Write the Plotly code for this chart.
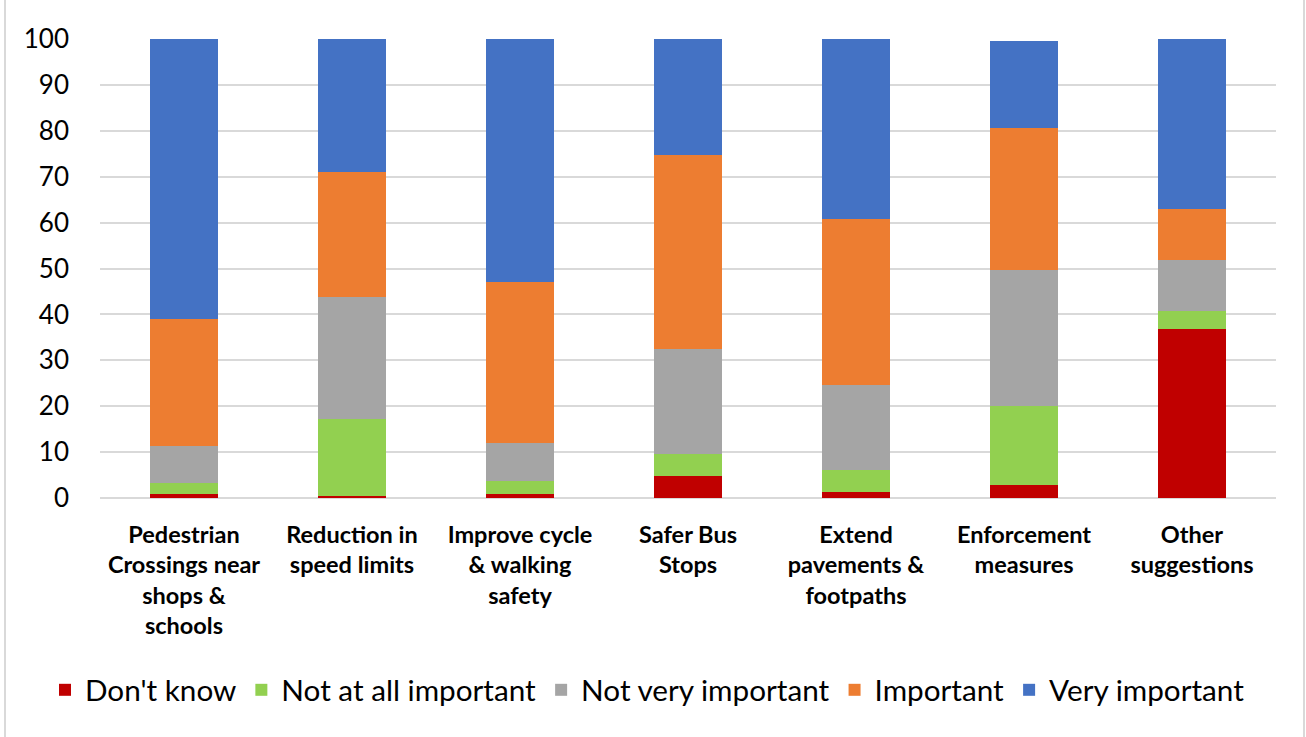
import plotly.graph_objects as go

categories = [
    "Pedestrian<br>Crossings near<br>shops &<br>schools",
    "Reduction in<br>speed limits",
    "Improve cycle<br>& walking<br>safety",
    "Safer Bus<br>Stops",
    "Extend<br>pavements &<br>footpaths",
    "Enforcement<br>measures",
    "Other<br>suggestions",
]

dont_know = [0.8, 0.4, 0.8, 4.7, 1.2, 2.8, 36.9]
not_at_all = [2.4, 16.8, 2.9, 4.9, 4.9, 17.3, 3.8]
not_very = [8.1, 26.7, 8.3, 22.8, 18.6, 29.6, 11.1]
important = [27.8, 27.1, 35.0, 42.3, 36.0, 31.0, 11.1]
very_important = [60.9, 29.0, 53.0, 25.3, 39.3, 18.9, 37.1]

series = [
    ("Don't know", dont_know, "#C00000"),
    ("Not at all important", not_at_all, "#92D050"),
    ("Not very important", not_very, "#A5A5A5"),
    ("Important", important, "#ED7D31"),
    ("Very important", very_important, "#4472C4"),
]

FONT = "Lato"

fig = go.Figure()
for name, vals, color in series:
    fig.add_trace(go.Bar(
        name=name, x=categories, y=vals,
        marker=dict(color=color, line=dict(width=0)),
        width=0.4,
    ))

W, H = 1306, 737
L, R, T, B = 100, 30, 39, 239
pw, ph = W - L - R, H - T - B

def px_x(p):
    return (p - L) / pw

def px_y(p):
    return (H - B - p) / ph

fig.update_layout(
    barmode="stack",
    width=W, height=H,
    margin=dict(l=L, r=R, t=T, b=B, autoexpand=False),
    paper_bgcolor="white",
    plot_bgcolor="white",
    font=dict(family=FONT, color="#000000"),
    legend=dict(
        orientation="h",
        x=px_x(45), xanchor="left",
        y=px_y(690), yanchor="middle",
        font=dict(family=FONT, size=29.7, color="#000000"),
        traceorder="normal",
        itemwidth=30,
    ),
    xaxis=dict(
        tickfont=dict(family=FONT, size=23.5, color="#000000", weight="bold"),
        showgrid=False,
        showline=False,
        ticks="",
        ticklabelstandoff=20,
    ),
    yaxis=dict(
        range=[0, 100],
        dtick=10,
        tickfont=dict(family=FONT, size=26, color="#000000"),
        showgrid=True,
        gridcolor="#D9D9D9",
        gridwidth=1.5,
        zeroline=True,
        zerolinecolor="#D9D9D9",
        zerolinewidth=1.5,
        ticks="",
        ticklabelstandoff=30,
    ),
    shapes=[
        dict(type="line", xref="paper", yref="paper",
             x0=px_x(5), x1=px_x(5), y0=px_y(0), y1=px_y(737),
             line=dict(color="#D9D9D9", width=2)),
        dict(type="line", xref="paper", yref="paper",
             x0=px_x(1304), x1=px_x(1304), y0=px_y(0), y1=px_y(737),
             line=dict(color="#D9D9D9", width=2)),
    ],
)

fig.write_html(
    "out.html",
    config={"displayModeBar": False},
    post_script="document.body.style.margin='0';document.body.style.overflow='hidden';",
)
